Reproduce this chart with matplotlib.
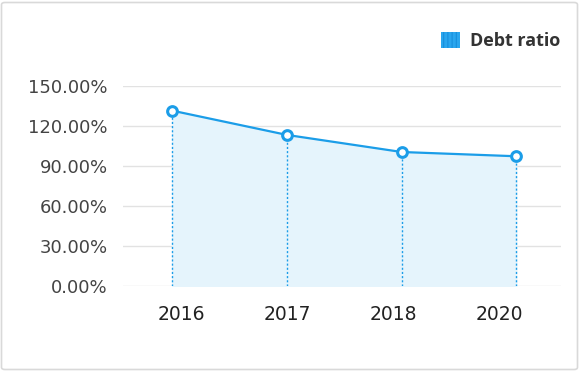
import matplotlib.pyplot as plt
from matplotlib.patches import Patch, FancyBboxPatch
import numpy as np

# data
years = ['2016', '2017', '2018', '2020']
debt_ratio = [131.5, 113.3, 100.5, 97.3]
y_ticks = [0, 30, 60, 90, 120, 150]

blue = '#1b9de8'

fig = plt.figure(figsize=(5.8, 3.71), dpi=100)
fig.patch.set_facecolor('white')

# light rounded frame around the whole card
frame = FancyBboxPatch((1.5 / 580, 1.5 / 371), 576 / 580, 367 / 371,
                       boxstyle='round,pad=0,rounding_size=0.006',
                       transform=fig.transFigure, facecolor='none',
                       edgecolor='#d9d9d9', linewidth=1.2)
fig.patches.append(frame)

ax = fig.add_axes([123 / 580, 85 / 371, 438 / 580, 200 / 371])
x = np.arange(len(years))

ax.fill_between(x, 0, debt_ratio, color='#e5f4fc', zorder=1)
ax.vlines(x, 0, debt_ratio, colors=blue, linestyles=(0, (1.5, 1.5)),
          linewidth=1, zorder=2)
ax.plot(x, debt_ratio, color=blue, linewidth=1.6, marker='o', markersize=7,
        markerfacecolor='white', markeredgecolor=blue, markeredgewidth=2.2,
        zorder=4, clip_on=False)

ax.set_xlim(-0.43, 3.39)
ax.set_ylim(0, 150)
ax.set_yticks(y_ticks)
ax.set_yticklabels(['%.2f%%' % v for v in y_ticks])
ax.set_xticks(x * 0.925 + 0.075)
ax.set_xticklabels(years)

ax.grid(axis='y', color='#e2e2e2', linewidth=1, zorder=0)
ax.set_axisbelow(True)
for s in ax.spines.values():
    s.set_visible(False)
ax.tick_params(axis='both', length=0)
ax.tick_params(axis='y', pad=11, labelsize=13, labelcolor='#444444')
ax.tick_params(axis='x', pad=14, labelsize=13.5, labelcolor='#222222')

plt.rcParams['hatch.linewidth'] = 0.6
handle = Patch(facecolor='#2aa6ee', edgecolor='#1187d6', hatch='||||', linewidth=0)
fig.legend(handles=[handle], labels=['Debt ratio'], loc='center right',
           bbox_to_anchor=(560 / 580, 1 - 41 / 371), frameon=False,
           borderpad=0, borderaxespad=0,
           handlelength=1.05, handleheight=1.05, handletextpad=0.55,
           prop={'family': 'Open Sans', 'weight': 'bold', 'size': 13},
           labelcolor='#333333')

fig.savefig('out.png', dpi=100)
